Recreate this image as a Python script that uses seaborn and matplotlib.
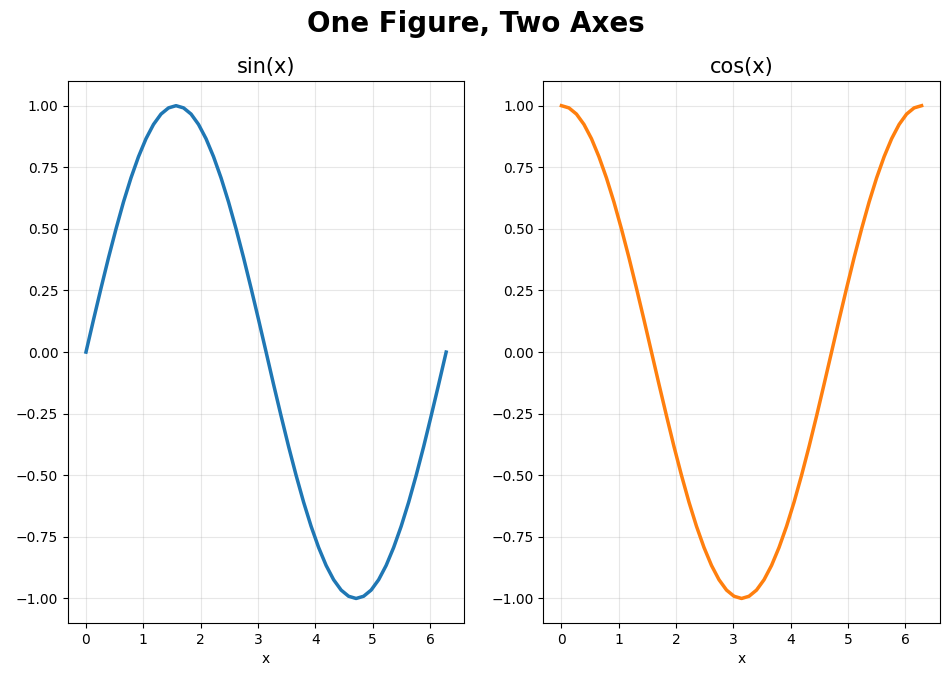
import matplotlib
matplotlib.use("Agg")
import matplotlib.pyplot as plt
import seaborn as sns
import pandas as pd

x = [0, 0.131, 0.262, 0.393, 0.524, 0.654, 0.785, 0.916, 1.047, 1.178, 1.309, 1.440,
     1.571, 1.702, 1.833, 1.963, 2.094, 2.225, 2.356, 2.487, 2.618, 2.749, 2.880, 3.011,
     3.142, 3.272, 3.403, 3.534, 3.665, 3.796, 3.927, 4.058, 4.189, 4.320, 4.451, 4.581,
     4.712, 4.843, 4.974, 5.105, 5.236, 5.367, 5.498, 5.629, 5.760, 5.891, 6.021, 6.152, 6.283]
sin_vals = [0, 0.131, 0.259, 0.383, 0.5, 0.609, 0.707, 0.793, 0.866, 0.924, 0.966, 0.991,
            1.0, 0.991, 0.966, 0.924, 0.866, 0.793, 0.707, 0.609, 0.5, 0.383, 0.259, 0.131,
            0, -0.131, -0.259, -0.383, -0.5, -0.609, -0.707, -0.793, -0.866, -0.924, -0.966, -0.991,
            -1.0, -0.991, -0.966, -0.924, -0.866, -0.793, -0.707, -0.609, -0.5, -0.383, -0.259, -0.131, 0]
cos_vals = [1.0, 0.991, 0.966, 0.924, 0.866, 0.793, 0.707, 0.609, 0.5, 0.383, 0.259, 0.131,
            0, -0.131, -0.259, -0.383, -0.5, -0.609, -0.707, -0.793, -0.866, -0.924, -0.966, -0.991,
            -1.0, -0.991, -0.966, -0.924, -0.866, -0.793, -0.707, -0.609, -0.5, -0.383, -0.259, -0.131,
            0, 0.131, 0.259, 0.383, 0.5, 0.609, 0.707, 0.793, 0.866, 0.924, 0.966, 0.991, 1.0]

df = pd.DataFrame({"x": x, "sin": sin_vals, "cos": cos_vals})

fig, axes = plt.subplots(1, 2, figsize=(9.52, 6.81), dpi=100)
for ax, col, color, title in [(axes[0], "sin", "#1f77b4", "sin(x)"),
                              (axes[1], "cos", "#ff7f0e", "cos(x)")]:
    sns.lineplot(data=df, x="x", y=col, ax=ax, color=color, linewidth=2.5)
    ax.set_title(title, fontsize=15)
    ax.set_xlabel("x")
    ax.set_ylabel("")
    ax.grid(True, alpha=0.3)
    ax.set_yticks([-1, -0.75, -0.5, -0.25, 0, 0.25, 0.5, 0.75, 1.0])
    ax.set_yticklabels(["\u22121.00", "\u22120.75", "\u22120.50", "\u22120.25", "0.00", "0.25", "0.50", "0.75", "1.00"])
fig.suptitle("One Figure, Two Axes", fontsize=20, fontweight="bold", y=0.985)
fig.subplots_adjust(left=0.0714, right=0.987, top=0.881, bottom=0.085, wspace=0.2)
fig.savefig("out.png", dpi=100)
